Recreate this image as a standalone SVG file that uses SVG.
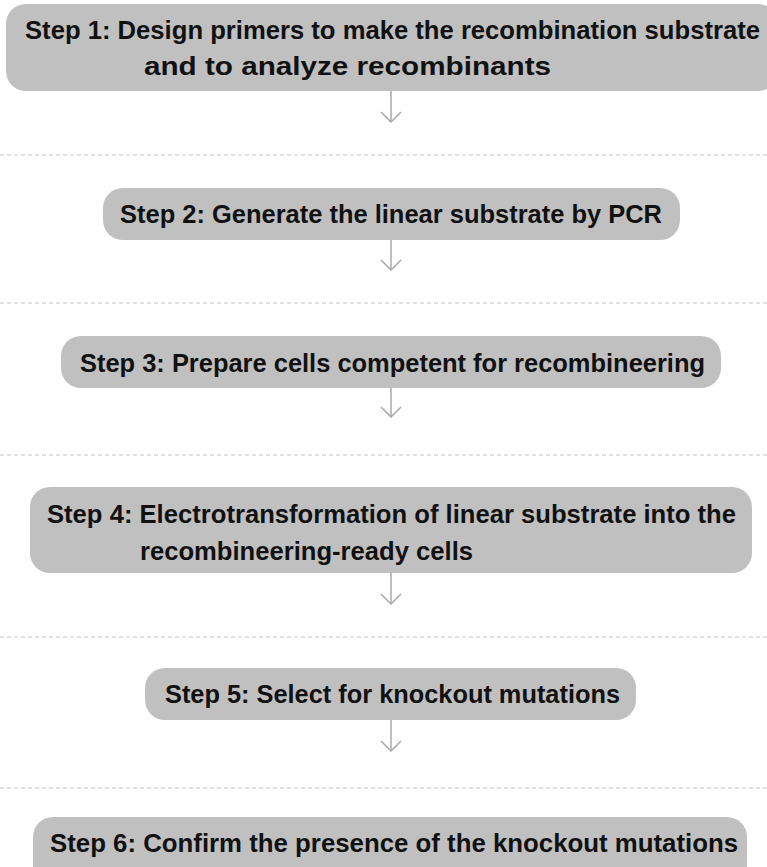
<svg xmlns="http://www.w3.org/2000/svg" width="767" height="867" viewBox="0 0 767 867">
  <defs>
    <style>
      .box { fill: #c0c0c0; }
      .label { font-family: "Liberation Sans", Arial, sans-serif; font-weight: bold; font-size: 25px; fill: #111111; }
      .sep { stroke: #c4c4c4; stroke-width: 1.2; stroke-dasharray: 4 3; fill: none; }
      .flow { stroke: #a8a8a8; stroke-width: 1.5; fill: none; }
    </style>
    <marker id="vhead" viewBox="0 0 12 22" refX="11" refY="11" markerWidth="12" markerHeight="22" markerUnits="userSpaceOnUse" orient="auto">
      <path d="M1,1 L11,11 L1,21" fill="none" stroke="#a8a8a8" stroke-width="1.5"/>
    </marker>
  </defs>
  <rect width="767" height="867" fill="#ffffff"/>

  <!-- step boxes -->
  <g id="step1">
    <rect class="box" x="6" y="4" width="772" height="87" rx="20"/>
    <text class="label" x="25" y="39" textLength="735" lengthAdjust="spacingAndGlyphs">Step 1: Design primers to make the recombination substrate</text>
    <text class="label" x="144" y="75" textLength="407" lengthAdjust="spacingAndGlyphs">and to analyze recombinants</text>
  </g>
  <g id="step2">
    <rect class="box" x="103" y="188" width="577" height="52" rx="20"/>
    <text class="label" x="120" y="223" textLength="542" lengthAdjust="spacingAndGlyphs">Step 2: Generate the linear substrate by PCR</text>
  </g>
  <g id="step3">
    <rect class="box" x="61" y="336" width="660" height="52" rx="20"/>
    <text class="label" x="80" y="372" textLength="625" lengthAdjust="spacingAndGlyphs">Step 3: Prepare cells competent for recombineering</text>
  </g>
  <g id="step4">
    <rect class="box" x="30" y="487" width="722" height="86" rx="20"/>
    <text class="label" x="47" y="523" textLength="689" lengthAdjust="spacingAndGlyphs">Step 4: Electrotransformation of linear substrate into the</text>
    <text class="label" x="140" y="560" textLength="333" lengthAdjust="spacingAndGlyphs">recombineering-ready cells</text>
  </g>
  <g id="step5">
    <rect class="box" x="145" y="668" width="491" height="52" rx="20"/>
    <text class="label" x="165" y="703" textLength="455" lengthAdjust="spacingAndGlyphs">Step 5: Select for knockout mutations</text>
  </g>
  <g id="step6">
    <rect class="box" x="33" y="817" width="714" height="70" rx="20"/>
    <text class="label" x="50" y="852" textLength="688" lengthAdjust="spacingAndGlyphs">Step 6: Confirm the presence of the knockout mutations</text>
  </g>

  <!-- connectors and stage separators -->
  <g id="connectors">
    <line class="flow" x1="391" y1="91" x2="391" y2="122" marker-end="url(#vhead)"/>
    <line class="flow" x1="391" y1="240" x2="391" y2="270" marker-end="url(#vhead)"/>
    <line class="flow" x1="391" y1="388" x2="391" y2="417" marker-end="url(#vhead)"/>
    <line class="flow" x1="391" y1="573" x2="391" y2="604" marker-end="url(#vhead)"/>
    <line class="flow" x1="391" y1="720" x2="391" y2="751" marker-end="url(#vhead)"/>
    <line class="sep" x1="0" y1="155" x2="767" y2="155"/>
    <line class="sep" x1="0" y1="303" x2="767" y2="303"/>
    <line class="sep" x1="0" y1="455" x2="767" y2="455"/>
    <line class="sep" x1="0" y1="637" x2="767" y2="637"/>
    <line class="sep" x1="0" y1="788" x2="767" y2="788"/>
  </g>
</svg>
